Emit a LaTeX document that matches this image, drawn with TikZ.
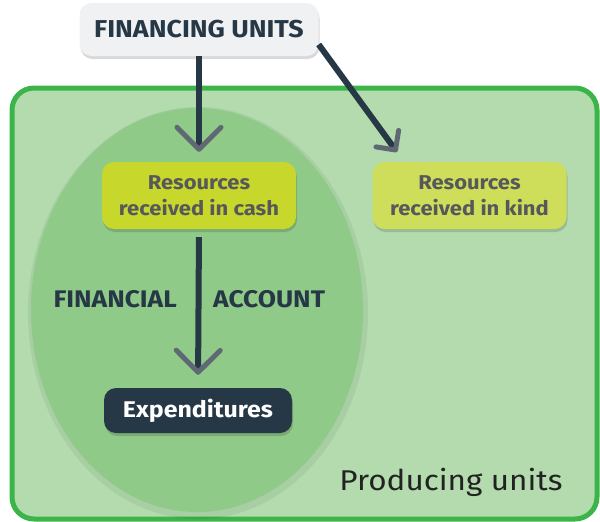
\documentclass[tikz,border=0pt]{standalone}
\usepackage{fontspec}
\setmainfont[FakeStretch=1.1]{Fira Sans}
\usetikzlibrary{arrows.meta,shadows}
\definecolor{outerfill}{HTML}{B3DBAE}
\definecolor{outerline}{HTML}{3BB44A}
\definecolor{ellfill}{HTML}{8FCA89}
\definecolor{cashfill}{HTML}{C8D72B}
\definecolor{kindfill}{HTML}{CFDE5A}
\definecolor{finfill}{HTML}{F0F1F3}
\definecolor{darkblue}{HTML}{263746}
\definecolor{restext}{HTML}{57585A}
\definecolor{tipgray}{HTML}{606873}
\definecolor{prodtext}{HTML}{222222}
\tikzset{
  boxbase/.style={rounded corners=12pt, align=center, inner sep=0pt,
    drop shadow={shadow xshift=1pt, shadow yshift=-3pt, opacity=0.15, fill=black}},
  finbox/.style={boxbase, fill=finfill, text=darkblue, minimum width=239pt, minimum height=53pt,
    font=\fontsize{24.4}{28}\selectfont\bfseries},
  resbox/.style={boxbase, text=restext, minimum width=194pt, minimum height=67pt,
    font=\fontsize{20}{26}\selectfont\bfseries},
  expbox/.style={boxbase, fill=darkblue, text=white, minimum width=188pt, minimum height=45pt,
    font=\fontsize{22.7}{26}\selectfont\bfseries},
  lbl/.style={text=darkblue, font=\fontsize{24}{28}\selectfont\bfseries, inner sep=0pt},
  bigarr/.style={draw=darkblue, line width=6pt,
    -{Straight Barb[length=22pt, width=44pt, line width=5pt, round, color=tipgray]}},
  smallarr/.style={draw=darkblue, line width=6pt,
    -{Straight Barb[length=14pt, width=28pt, line width=5pt, round, color=tipgray]}},
}
\begin{document}
\begin{tikzpicture}[x=1pt, y=-1pt]
\useasboundingbox (0,0) rectangle (600,522);
% producing units frame
\draw[line width=5pt, draw=outerline, fill=outerfill, rounded corners=22pt] (12,88) rectangle (597,519);
% financial account ellipse
\fill[black, opacity=0.06] (198,313) ellipse [x radius=170, y radius=206];
\fill[ellfill] (197,310) ellipse [x radius=166, y radius=202];
\node[text=prodtext, font=\fontsize{28.6}{32}\selectfont, anchor=base] (prod) at (451,490) {Producing units};
% nodes
\node[finbox] (fin) at (199,29.5) {FINANCING UNITS};
\node[resbox, fill=cashfill] (cash) at (199,195.5) {Resources\\received in cash};
\node[resbox, fill=kindfill] (kind) at (469.5,195.5) {Resources\\received in kind};
\node[expbox] (exp) at (198,410.5) {Expenditures};
\node[lbl, anchor=base east] (fa1) at (177,307) {FINANCIAL};
\node[lbl, anchor=base west] (fa2) at (213,307) {ACCOUNT};
\coordinate (kt) at (397,152);
% connectors
\draw[bigarr, shorten >=10pt] (fin.south) -- (cash.north);
\draw[smallarr] ([yshift=-15pt]fin.east) -- (kt);
\draw[bigarr, shorten <=8pt, shorten >=13pt] (cash.south) -- (exp.north);
\end{tikzpicture}
\end{document}
